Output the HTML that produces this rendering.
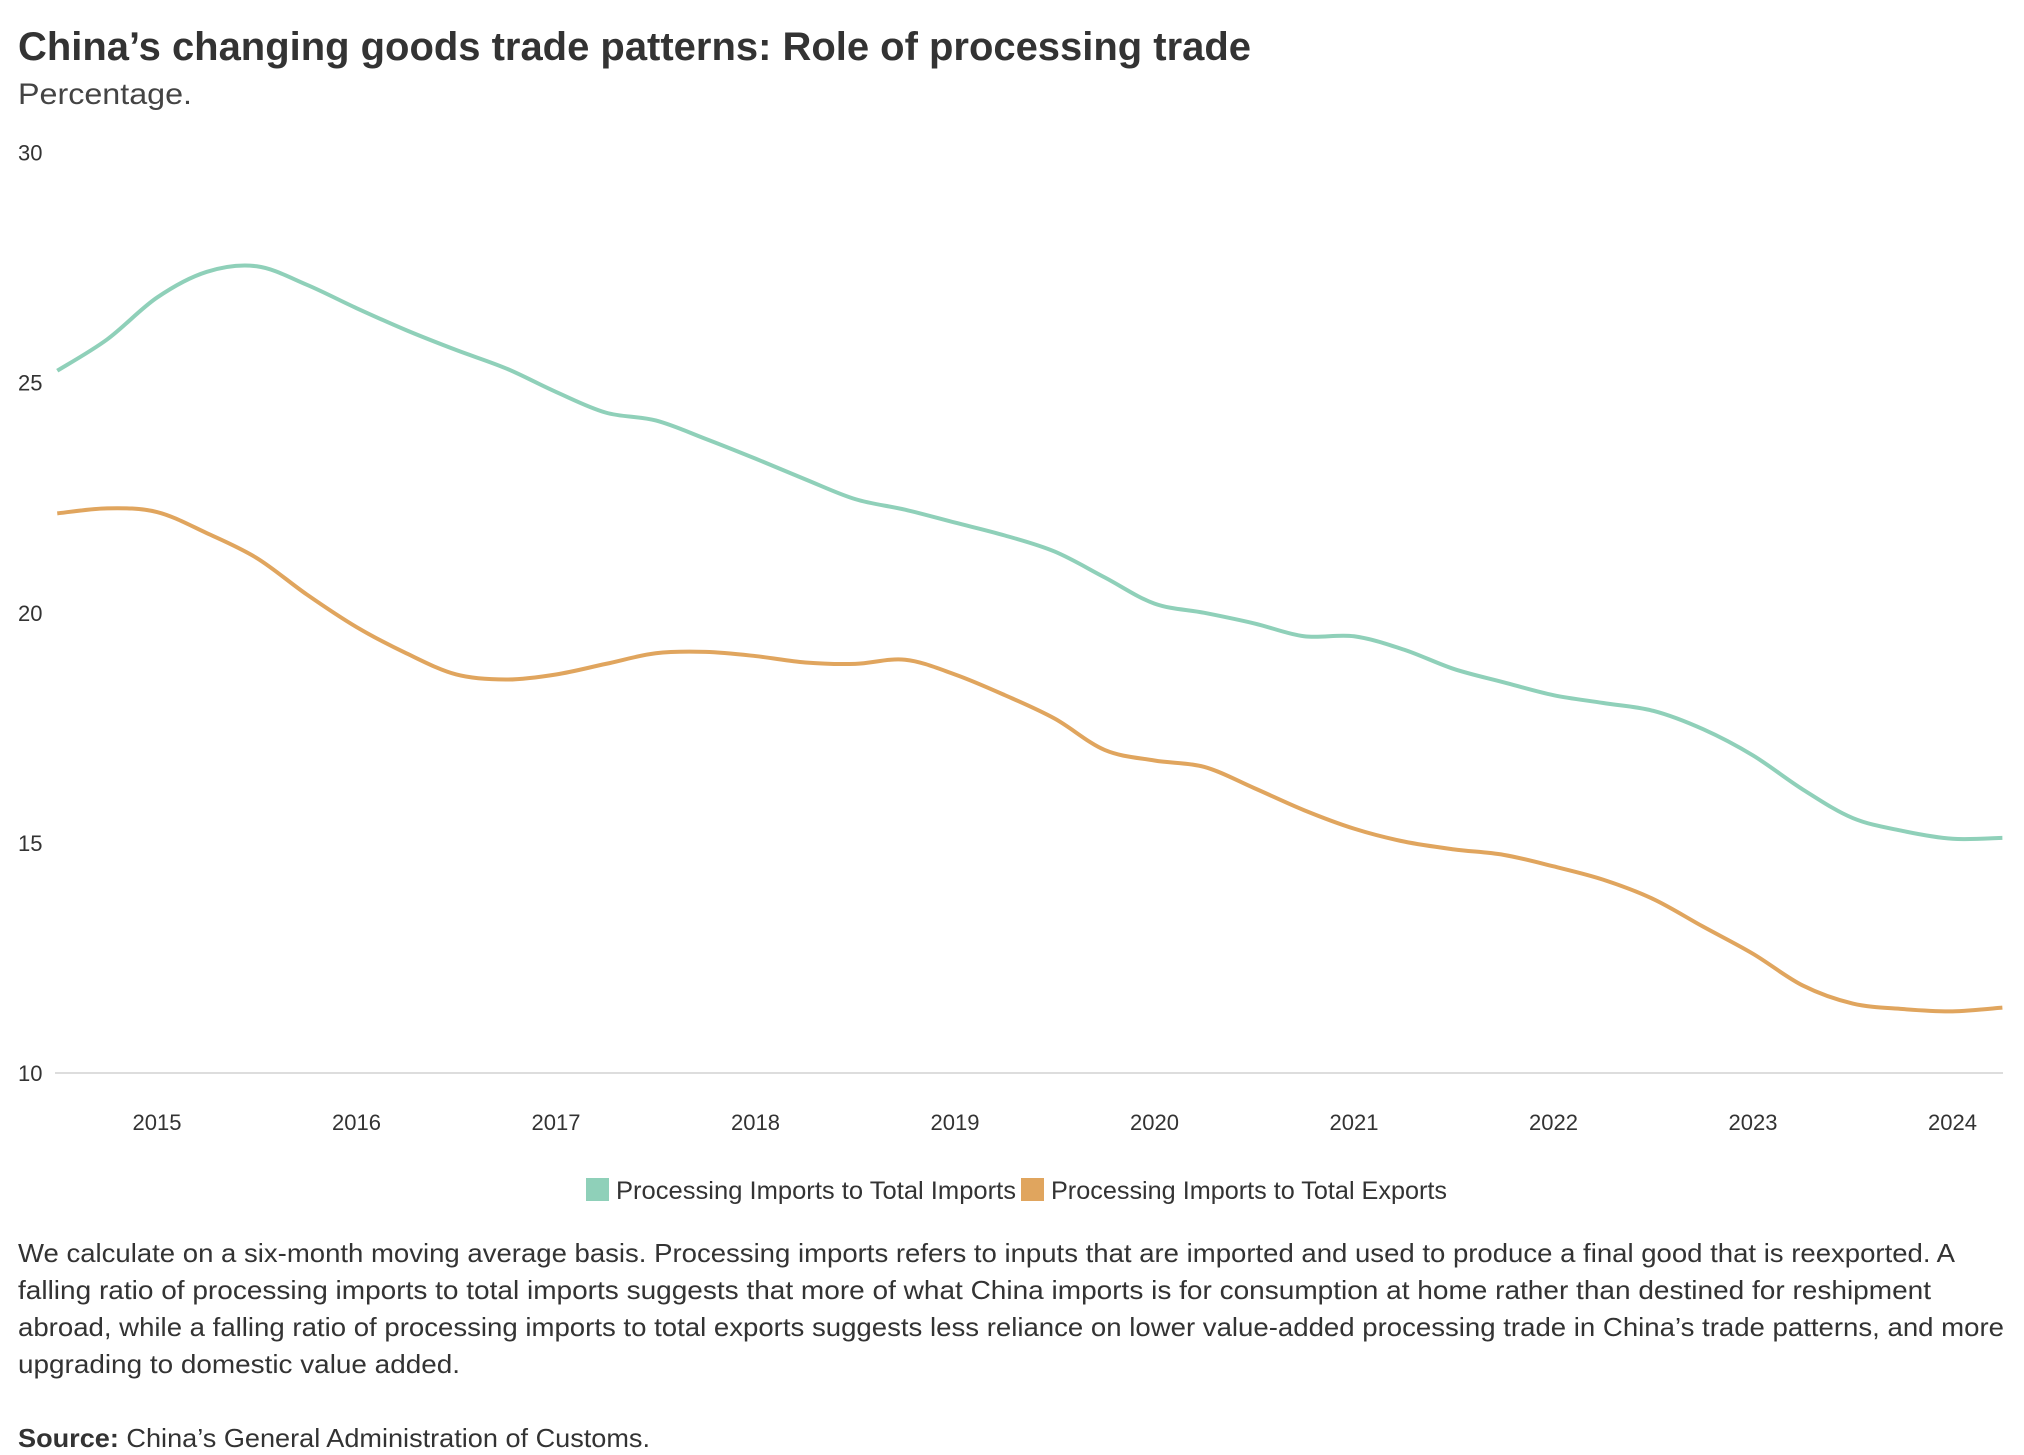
<!DOCTYPE html>
<html><head><meta charset="utf-8"><style>
html,body{margin:0;padding:0;background:#fff;}
svg{display:block;font-family:"Liberation Sans",sans-serif;}
</style></head><body>
<svg id="chart" width="2024" height="1455" viewBox="0 0 2024 1455">
<text x="18" y="60" font-size="40" font-weight="bold" fill="#333" textLength="1233" lengthAdjust="spacingAndGlyphs">China’s changing goods trade patterns: Role of processing trade</text>
<text x="18" y="104" font-size="30" fill="#444" textLength="174" lengthAdjust="spacingAndGlyphs">Percentage.</text>
<g id="yaxis"></g>
<g id="xaxis"></g>
<g id="lines"></g>
<g>
<rect x="586" y="1178" width="23" height="23" fill="#8fd0b9"/>
<text x="616" y="1199" font-size="25" fill="#333" textLength="400" lengthAdjust="spacingAndGlyphs">Processing Imports to Total Imports</text>
<rect x="1021" y="1178" width="23" height="23" fill="#e0a55e"/>
<text x="1051" y="1199" font-size="25" fill="#333" textLength="396" lengthAdjust="spacingAndGlyphs">Processing Imports to Total Exports</text>
</g>
<g font-size="26" fill="#333">
<text x="18" y="1262" textLength="1937" lengthAdjust="spacingAndGlyphs">We calculate on a six-month moving average basis. Processing imports refers to inputs that are imported and used to produce a final good that is reexported. A</text>
<text x="18" y="1299" textLength="1913" lengthAdjust="spacingAndGlyphs">falling ratio of processing imports to total imports suggests that more of what China imports is for consumption at home rather than destined for reshipment</text>
<text x="18" y="1336" textLength="1986" lengthAdjust="spacingAndGlyphs">abroad, while a falling ratio of processing imports to total exports suggests less reliance on lower value-added processing trade in China’s trade patterns, and more</text>
<text x="18" y="1373" textLength="442" lengthAdjust="spacingAndGlyphs">upgrading to domestic value added.</text>
</g>
<text x="18" y="1447" font-size="26" fill="#333" textLength="632" lengthAdjust="spacingAndGlyphs"><tspan font-weight="bold">Source:</tspan> China’s General Administration of Customs.</text>
</svg>
<script>
const dates = [2014.5,2014.75,2015,2015.25,2015.5,2015.75,2016,2016.25,2016.5,2016.75,2017,2017.25,2017.5,2017.75,2018,2018.25,2018.5,2018.75,2019,2019.25,2019.5,2019.75,2020,2020.25,2020.5,2020.75,2021,2021.25,2021.5,2021.75,2022,2022.25,2022.5,2022.75,2023,2023.25,2023.5,2023.75,2024,2024.25];
const importsRatio = [25.26,25.94,26.85,27.41,27.53,27.13,26.62,26.14,25.71,25.31,24.80,24.35,24.18,23.78,23.35,22.90,22.47,22.24,21.96,21.68,21.33,20.77,20.20,20.00,19.77,19.49,19.49,19.20,18.78,18.49,18.21,18.04,17.87,17.47,16.90,16.16,15.54,15.26,15.09,15.11];
const exportsRatio = [22.16,22.27,22.19,21.73,21.19,20.40,19.69,19.12,18.66,18.55,18.66,18.89,19.12,19.15,19.06,18.92,18.89,18.98,18.66,18.21,17.70,17.02,16.79,16.65,16.19,15.71,15.31,15.03,14.86,14.74,14.49,14.20,13.78,13.18,12.59,11.90,11.51,11.39,11.34,11.42];
const yTicks = [10,15,20,25,30];
const xTicks = [2015,2016,2017,2018,2019,2020,2021,2022,2023,2024];

const NS = "http://www.w3.org/2000/svg";
function xScale(t){ return 157 + (t - 2015) * 199.5; }
function yScale(v){ return 1073 - (v - 10) * 46.02; }
function mk(tag, attrs, parent){ const e=document.createElementNS(NS,tag); for(const k in attrs) e.setAttribute(k,attrs[k]); parent.appendChild(e); return e; }

const yg=document.getElementById('yaxis');
yTicks.forEach(v=>{
  const t=mk('text',{x:18,y:yScale(v)+8,'font-size':22,fill:'#333'},yg);
  
  
  t.textContent=v;
});
const base=mk('line',{x1:55,x2:2003,y1:yScale(10),y2:yScale(10),stroke:'#dddddd','stroke-width':2},yg);



const xg=document.getElementById('xaxis');
xTicks.forEach(y=>{
  const t=mk('text',{x:xScale(y),y:1130,'font-size':22,fill:'#333','text-anchor':'middle'},xg);
  
  
  t.textContent=y;
});

function smoothPath(xs, ys){
  const p=xs.map((x,i)=>[xScale(x),yScale(ys[i])]);
  let d='M'+p[0][0]+','+p[0][1];
  for(let i=0;i<p.length-1;i++){
    const p0=p[i-1]||p[i], p1=p[i], p2=p[i+1], p3=p[i+2]||p[i+1];
    const c1=[p1[0]+(p2[0]-p0[0])/6, p1[1]+(p2[1]-p0[1])/6];
    const c2=[p2[0]-(p3[0]-p1[0])/6, p2[1]-(p3[1]-p1[1])/6];
    d+=' C'+c1[0]+','+c1[1]+' '+c2[0]+','+c2[1]+' '+p2[0]+','+p2[1];
  }
  return d;
}
const lg=document.getElementById('lines');
const l1=mk('path',{d:smoothPath(dates,importsRatio),fill:'none',stroke:'#8fd0b9','stroke-width':4,'stroke-linejoin':'round'},lg);


const l2=mk('path',{d:smoothPath(dates,exportsRatio),fill:'none',stroke:'#e0a55e','stroke-width':4,'stroke-linejoin':'round'},lg);


</script>
</body></html>
